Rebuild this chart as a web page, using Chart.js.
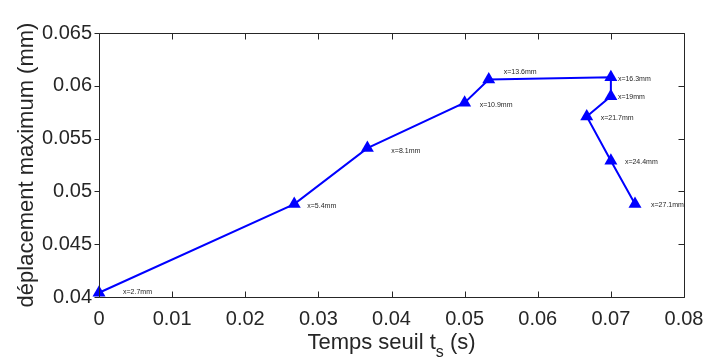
<!DOCTYPE html>
<html>
<head>
<meta charset="utf-8">
<script src="https://cdn.jsdelivr.net/npm/chart.js@4.4.1/dist/chart.umd.min.js"></script>
<style>
  html, body { margin: 0; padding: 0; background: #ffffff; }
  #wrap { width: 708px; height: 363px; position: relative; }
</style>
</head>
<body>
<div id="wrap"><canvas id="c" width="708" height="363"></canvas></div>
<script>
// ---- data ----
const tempsSeuil = [0, 0.0267, 0.0367, 0.0500, 0.0533, 0.0700, 0.0700, 0.0667, 0.0700, 0.0733];
const deplacementMax = [0.0404, 0.0488, 0.0541, 0.0584, 0.0606, 0.0608, 0.0590, 0.0571, 0.0529, 0.0488];
const pointLabels = ['x=2.7mm', 'x=5.4mm', 'x=8.1mm', 'x=10.9mm', 'x=13.6mm', 'x=16.3mm', 'x=19mm', 'x=21.7mm', 'x=24.4mm', 'x=27.1mm'];
const xTicks = [0, 0.01, 0.02, 0.03, 0.04, 0.05, 0.06, 0.07, 0.08];
const xTickLabels = ['0', '0.01', '0.02', '0.03', '0.04', '0.05', '0.06', '0.07', '0.08'];
const yTicks = [0.04, 0.045, 0.05, 0.055, 0.06, 0.065];
const yTickLabels = ['0.04', '0.045', '0.05', '0.055', '0.06', '0.065'];

// ---- styles (label offsets in px, separate from data) ----
const labelOffsets = [[24, -1], [13, 2], [24, 3], [15, 2], [15, -7], [7, 2], [7, 1], [14, 2], [14, 1], [16, 1]];
const AXIS = '#262626';
const BLUE = '#0000ff';

const points = tempsSeuil.map((t, i) => ({ x: t, y: deplacementMax[i] }));

const framePlugin = {
  id: 'frame',
  afterDatasetsDraw(chart) {
    const ctx = chart.ctx;
    const xs = chart.scales.x, ys = chart.scales.y;
    ctx.save();
    ctx.fillStyle = '#262626';
    ctx.font = '7px "Liberation Sans", Arial, sans-serif';
    ctx.textAlign = 'left';
    ctx.textBaseline = 'middle';
    points.forEach((p, i) => {
      const px = xs.getPixelForValue(p.x) + labelOffsets[i][0];
      const py = ys.getPixelForValue(p.y) + labelOffsets[i][1];
      ctx.fillText(pointLabels[i], px, py);
    });
    ctx.restore();
  },
  afterDraw(chart) {
    const ctx = chart.ctx;
    const a = chart.chartArea;
    const xs = chart.scales.x, ys = chart.scales.y;
    const L = Math.round(a.left) + 0.5, R = Math.round(a.right) + 0.5;
    const T = Math.round(a.top) + 0.5, B = Math.round(a.bottom) + 0.5;
    ctx.save();
    ctx.strokeStyle = AXIS;
    ctx.lineWidth = 1;
    ctx.beginPath();
    ctx.moveTo(L, T); ctx.lineTo(R, T); ctx.lineTo(R, B); ctx.lineTo(L, B); ctx.closePath();
    xTicks.forEach(v => {
      const px = Math.round(xs.getPixelForValue(v)) + 0.5;
      ctx.moveTo(px, B); ctx.lineTo(px, B - 6);
      ctx.moveTo(px, T); ctx.lineTo(px, T + 6);
    });
    yTicks.forEach(v => {
      const py = Math.round(ys.getPixelForValue(v)) + 0.5;
      ctx.moveTo(L, py); ctx.lineTo(L - 5, py);
      ctx.moveTo(R, py); ctx.lineTo(R - 6, py);
    });
    ctx.stroke();

    ctx.fillStyle = AXIS;
    const cx = (a.left + a.right) / 2;
    const bigFont = '22px "Liberation Sans", Arial, sans-serif';
    const subFont = '16px "Liberation Sans", Arial, sans-serif';
    ctx.textBaseline = 'alphabetic';
    ctx.font = bigFont;
    const p1 = 'Temps seuil t';
    const p3 = ' (s)';
    const w1 = ctx.measureText(p1).width;
    const w3 = ctx.measureText(p3).width;
    ctx.font = subFont;
    const w2 = ctx.measureText('s').width;
    const total = w1 + w2 + w3;
    let x0 = cx - total / 2;
    const base = 349;
    ctx.textAlign = 'left';
    ctx.font = bigFont;
    ctx.fillText(p1, x0, base);
    ctx.font = subFont;
    ctx.fillText('s', x0 + w1, base + 8);
    ctx.font = bigFont;
    ctx.fillText(p3, x0 + w1 + w2, base);

    ctx.save();
    ctx.translate(33, (a.top + a.bottom) / 2);
    ctx.rotate(-Math.PI / 2);
    ctx.textAlign = 'center';
    ctx.textBaseline = 'alphabetic';
    ctx.font = bigFont;
    ctx.fillText('déplacement maximum (mm)', 0, 0);
    ctx.restore();
    ctx.restore();
  }
};

new Chart(document.getElementById('c'), {
  type: 'scatter',
  data: {
    datasets: [{
      data: points,
      showLine: true,
      borderColor: BLUE,
      backgroundColor: BLUE,
      borderWidth: 2,
      pointStyle: 'triangle',
      pointRadius: 7.5,
      pointHoverRadius: 7.5,
      pointBackgroundColor: BLUE,
      pointBorderColor: BLUE,
      pointBorderWidth: 0,
      tension: 0,
      clip: false
    }]
  },
  options: {
    responsive: false,
    animation: false,
    devicePixelRatio: 1,
    layout: { padding: { top: 33, right: 24, left: 0, bottom: 0 } },
    plugins: { legend: { display: false }, tooltip: { enabled: false }, title: { display: false } },
    scales: {
      x: {
        type: 'linear',
        min: 0, max: 0.08,
        afterBuildTicks: s => { s.ticks = xTicks.map(v => ({ value: v })); },
        afterFit: s => { s.height = 66; s.paddingRight = 0; s.paddingLeft = 0; },
        grid: { display: false, drawTicks: false },
        border: { display: false },
        ticks: {
          padding: 10,
          color: AXIS,
          font: { family: '"Liberation Sans", Arial, sans-serif', size: 20 },
          maxRotation: 0,
          autoSkip: false,
          callback: (v, i) => xTickLabels[i]
        }
      },
      y: {
        type: 'linear',
        min: 0.04, max: 0.065,
        afterBuildTicks: s => { s.ticks = yTicks.map(v => ({ value: v })); },
        afterFit: s => { s.width = 99; s.paddingTop = 0; s.paddingBottom = 0; },
        grid: { display: false, drawTicks: false },
        border: { display: false },
        ticks: {
          padding: 7,
          color: AXIS,
          font: { family: '"Liberation Sans", Arial, sans-serif', size: 20 },
          autoSkip: false,
          callback: (v, i) => yTickLabels[i]
        }
      }
    }
  },
  plugins: [framePlugin]
});
</script>
</body>
</html>
